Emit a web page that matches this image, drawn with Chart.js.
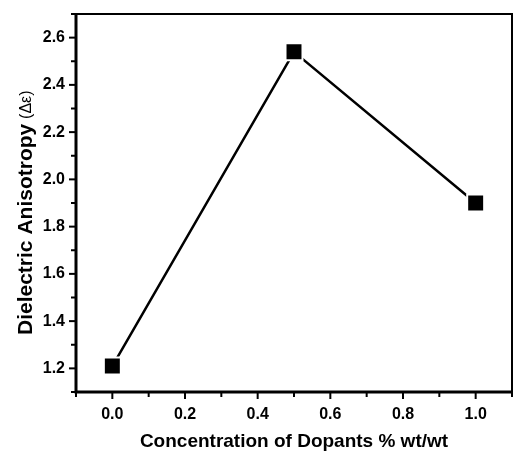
<!DOCTYPE html>
<html>
<head>
<meta charset="utf-8">
<script src="https://cdn.jsdelivr.net/npm/chart.js@4.4.1/dist/chart.umd.min.js"></script>
<style>
  html, body { margin: 0; padding: 0; background: #fff; }
  #wrap { width: 526px; height: 456px; }
</style>
</head>
<body>
<div id="wrap"><canvas id="myChart" width="526" height="456"></canvas></div>
<script>
// data
var concentrations = [0.0, 0.5, 1.0];
var anisotropy = [1.21, 2.54, 1.90];
var xTitle = 'Concentration of Dopants % wt/wt';
var yTitleMain = 'Dielectric Anisotropy ';
var yTitleSym = '(\u0394\u03b5)';

var FONT = '"Liberation Sans", Arial, sans-serif';

function majorLabel(v, lo, hi) {
    var k = Math.round(v * 10);
    if (k % 2 !== 0) return '';
    if (v < lo - 1e-9 || v > hi + 1e-9) return '';
    return (k / 10).toFixed(1);
}

// frame, minor/major ticks and axis titles
var framePlugin = {
    id: 'frame',
    afterDraw: function(chart) {
        var ctx = chart.ctx;
        var a = chart.chartArea;
        ctx.save();
        ctx.strokeStyle = '#000';
        ctx.lineCap = 'butt';
        // top and right lines (thinner)
        ctx.lineWidth = 2;
        ctx.beginPath();
        ctx.moveTo(a.left, a.top);
        ctx.lineTo(a.right, a.top);
        ctx.lineTo(a.right, a.bottom);
        ctx.stroke();
        // bottom and left axis lines
        ctx.lineWidth = 3;
        ctx.beginPath();
        ctx.moveTo(a.left, a.top - 1);
        ctx.lineTo(a.left, a.bottom);
        ctx.lineTo(a.right + 1, a.bottom);
        ctx.stroke();
        // ticks
        ctx.lineWidth = 2;
        var xs = chart.scales.x, ys = chart.scales.y;
        xs.ticks.forEach(function(t, i) {
            var px = xs.getPixelForTick(i);
            var len = t.label ? 7 : 5;
            ctx.beginPath();
            ctx.moveTo(px, a.bottom);
            ctx.lineTo(px, a.bottom + len);
            ctx.stroke();
        });
        ys.ticks.forEach(function(t, i) {
            var py = ys.getPixelForTick(i);
            var len = t.label ? 7 : 5;
            ctx.beginPath();
            ctx.moveTo(a.left, py);
            ctx.lineTo(a.left - len, py);
            ctx.stroke();
        });
        // x title
        ctx.fillStyle = '#000';
        ctx.font = 'bold 19px ' + FONT;
        ctx.textAlign = 'center';
        ctx.textBaseline = 'middle';
        ctx.fillText(xTitle, (a.left + a.right) / 2, a.bottom + 50);
        // y title, two fonts
        ctx.translate(26, a.bottom - 57);
        ctx.rotate(-Math.PI / 2);
        ctx.textAlign = 'left';
        ctx.font = 'bold 21px ' + FONT;
        ctx.fillText(yTitleMain, 0, 0);
        var w = ctx.measureText(yTitleMain).width;
        ctx.font = '16px ' + FONT;
        ctx.fillText(yTitleSym, w - 1, 1);
        ctx.restore();
    }
};

var ctx = document.getElementById('myChart').getContext('2d');
var myChart = new Chart(ctx, {
    type: 'scatter',
    data: {
        datasets: [{
            data: concentrations.map(function(c, i) { return {x: c, y: anisotropy[i]}; }),
            showLine: true,
            borderColor: '#000',
            borderWidth: 2.5,
            backgroundColor: '#000',
            pointStyle: 'rect',
            pointRadius: 12,
            pointHoverRadius: 12,
            pointBackgroundColor: '#000',
            pointBorderColor: '#fff',
            pointBorderWidth: 2
        }]
    },
    options: {
        responsive: false,
        animation: false,
        layout: { padding: { top: 10, right: 3, left: 0, bottom: 0 } },
        plugins: {
            legend: { display: false },
            tooltip: { enabled: false }
        },
        scales: {
            x: {
                type: 'linear',
                min: -0.1,
                max: 1.1,
                border: { display: false },
                grid: { display: true, drawOnChartArea: false, drawTicks: true, tickLength: 7, tickColor: 'rgba(0,0,0,0)' },
                ticks: {
                    stepSize: 0.1,
                    autoSkip: false,
                    maxRotation: 0,
                    padding: 6,
                    color: '#000',
                    font: { family: FONT, size: 16, weight: 'bold' },
                    callback: function(v) { return majorLabel(v, 0, 1.0); }
                },
                afterFit: function(s) { s.height = 64; }
            },
            y: {
                type: 'linear',
                min: 1.1,
                max: 2.7,
                border: { display: false },
                grid: { display: true, drawOnChartArea: false, drawTicks: true, tickLength: 7, tickColor: 'rgba(0,0,0,0)' },
                ticks: {
                    stepSize: 0.1,
                    autoSkip: false,
                    padding: 4,
                    color: '#000',
                    font: { family: FONT, size: 16, weight: 'bold' },
                    callback: function(v) { return majorLabel(v, 1.2, 2.6); }
                },
                afterFit: function(s) { s.width = 76; }
            }
        }
    },
    plugins: [framePlugin]
});
</script>
</body>
</html>
